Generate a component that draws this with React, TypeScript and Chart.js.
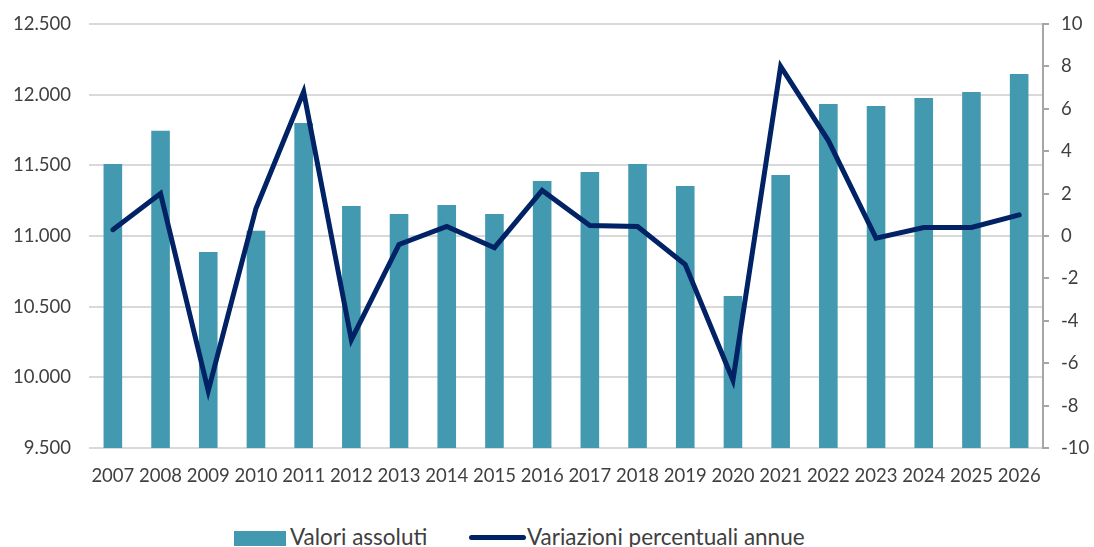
import React, { useEffect, useRef } from 'react';
import { Chart, registerables } from 'chart.js';

Chart.register(...registerables);

const years = ['2007', '2008', '2009', '2010', '2011', '2012', '2013', '2014', '2015', '2016', '2017', '2018', '2019', '2020', '2021', '2022', '2023', '2024', '2025', '2026'];
const absoluteValues = [11510, 11745, 10887, 11038, 11800, 11212, 11156, 11219, 11156, 11389, 11453, 11510, 11354, 10576, 11432, 11934, 11920, 11976, 12019, 12146];
const percentChanges = [0.3, 2.0, -7.3, 1.3, 6.8, -4.9, -0.4, 0.45, -0.55, 2.15, 0.5, 0.45, -1.35, -6.8, 8.0, 4.5, -0.1, 0.4, 0.4, 1.0];
const leftAxisRange = [9500, 12500];
const leftAxisStep = 500;
const rightAxisRange = [-10, 10];
const rightAxisStep = 2;
const seriesLabels = ['Valori assoluti', 'Variazioni percentuali annue'];

const BAR_COLOR = '#4399b0';
const LINE_COLOR = '#012264';
const TEXT_COLOR = '#404040';
const FONT = 'Lato';
const TICK_SIZE = 18.5;
const LEGEND_SIZE = 22.5;

const formatThousands = (v: number) => String(v).replace(/\B(?=(\d{3})+(?!\d))/g, '.');

export default function App() {
  const canvasRef = useRef<HTMLCanvasElement | null>(null);

  useEffect(() => {
    if (!canvasRef.current) return;
    const chart = new Chart(canvasRef.current, {
      data: {
        labels: years,
        datasets: [
          {
            type: 'line',
            label: seriesLabels[1],
            data: percentChanges,
            yAxisID: 'y1',
            borderColor: LINE_COLOR,
            backgroundColor: LINE_COLOR,
            borderWidth: 5,
            pointRadius: 0,
            borderJoinStyle: 'miter',
            borderCapStyle: 'round',
            tension: 0,
            order: 0,
          },
          {
            type: 'bar',
            label: seriesLabels[0],
            data: absoluteValues,
            yAxisID: 'y',
            backgroundColor: BAR_COLOR,
            borderWidth: 0,
            barPercentage: 0.39,
            categoryPercentage: 1,
            order: 1,
          },
        ],
      } as any,
      options: {
        responsive: false,
        animation: false,
        layout: { padding: { top: 24, left: 0, right: 0, bottom: 0 } },
        plugins: {
          legend: { display: false },
          tooltip: { enabled: false },
        },
        scales: {
          x: {
            grid: { display: false, drawTicks: false },
            border: { display: false },
            ticks: {
              color: TEXT_COLOR,
              font: { family: FONT, size: TICK_SIZE },
              padding: 17,
              maxRotation: 0,
              autoSkip: false,
            },
            afterFit: (s: any) => {
              s.height = 500 - 448;
            },
          },
          y: {
            position: 'left',
            min: leftAxisRange[0],
            max: leftAxisRange[1],
            grid: { color: '#d9d9d9', lineWidth: 2, drawTicks: true, tickLength: 18, tickColor: 'rgba(0,0,0,0)' },
            border: { display: false },
            ticks: {
              stepSize: leftAxisStep,
              color: TEXT_COLOR,
              font: { family: FONT, size: TICK_SIZE },
              padding: 0,
              callback: (v: any) => formatThousands(Number(v)),
            },
            afterFit: (s: any) => {
              s.width = 89;
            },
          },
          y1: {
            position: 'right',
            min: rightAxisRange[0],
            max: rightAxisRange[1],
            grid: { drawOnChartArea: false, drawTicks: true, tickLength: 6, color: '#a6a6a6', lineWidth: 2 },
            border: { display: true, color: '#a6a6a6', width: 2 },
            ticks: {
              stepSize: rightAxisStep,
              color: TEXT_COLOR,
              font: { family: FONT, size: TICK_SIZE },
              padding: 12,
            },
            afterFit: (s: any) => {
              s.width = 1094 - 1043;
            },
          },
        },
      } as any,
    });
    return () => chart.destroy();
  }, []);

  const legendText: React.CSSProperties = {
    position: 'absolute',
    top: 524,
    fontFamily: FONT,
    fontSize: LEGEND_SIZE,
    lineHeight: '26px',
    color: TEXT_COLOR,
    whiteSpace: 'nowrap',
  };

  return (
    <div style={{ position: 'absolute', left: 0, top: 0, width: 1094, height: 547, overflow: 'hidden', background: '#fff' }}>
      <canvas ref={canvasRef} width={1094} height={500} style={{ display: 'block', width: 1094, height: 500 }} />
      <div style={{ position: 'absolute', left: 234, top: 531, width: 52, height: 15, background: BAR_COLOR }} />
      <div style={{ ...legendText, left: 290 }}>{seriesLabels[0]}</div>
      <div style={{ position: 'absolute', left: 469, top: 535, width: 57, height: 5, background: LINE_COLOR, borderRadius: 3 }} />
      <div style={{ ...legendText, left: 527 }}>{seriesLabels[1]}</div>
    </div>
  );
}
